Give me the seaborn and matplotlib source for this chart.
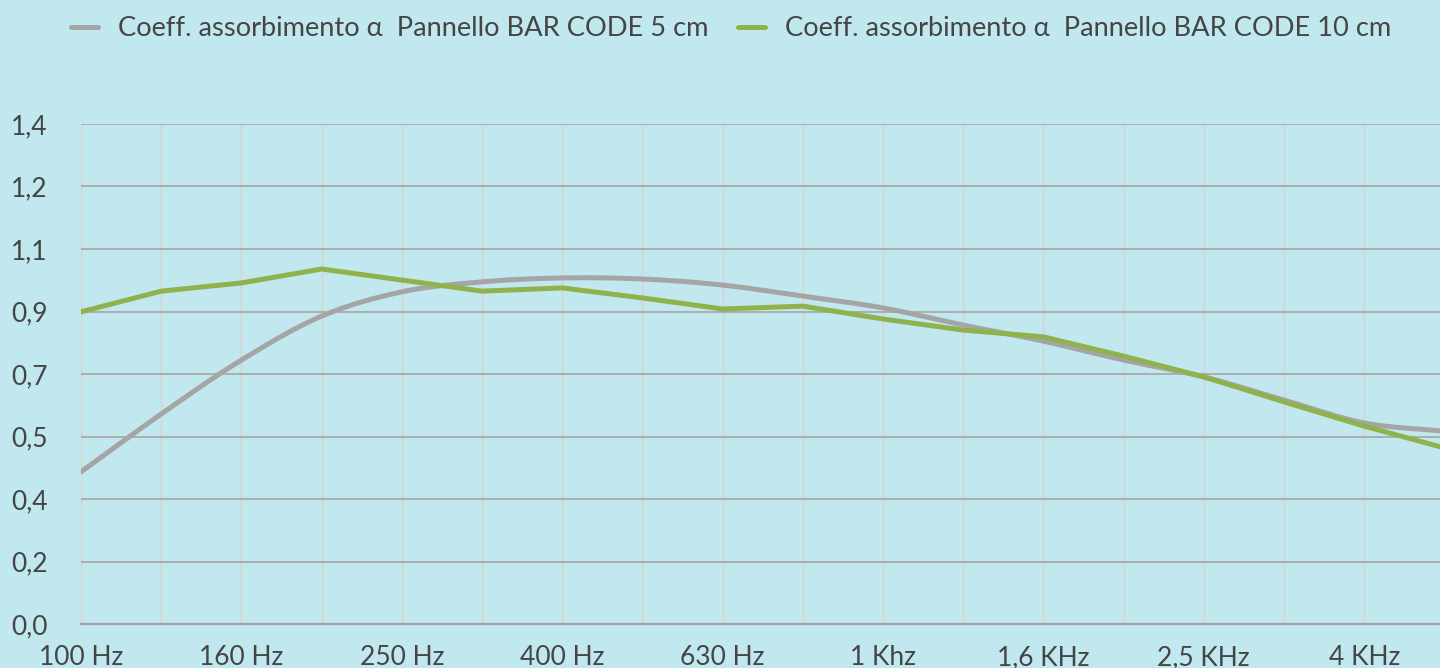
import numpy as np
import pandas as pd
import matplotlib
matplotlib.use("Agg")
import matplotlib.pyplot as plt
import seaborn as sns

# --- data ---
freqs = ["100 Hz", "125 Hz", "160 Hz", "200 Hz", "250 Hz", "315 Hz", "400 Hz", "500 Hz",
         "630 Hz", "800 Hz", "1 Khz", "1,25 KHz", "1,6 KHz", "2 KHz", "2,5 KHz", "3,15 KHz",
         "4 KHz", "5 KHz"]
bar_code_5 = [0.426, 0.588, 0.739, 0.862, 0.930, 0.958, 0.969, 0.966, 0.949, 0.918,
              0.885, 0.837, 0.792, 0.739, 0.692, 0.627, 0.563, 0.540]
bar_code_10 = [0.874, 0.932, 0.955, 0.994, 0.963, 0.932, 0.941, 0.913, 0.882, 0.890,
               0.854, 0.823, 0.804, 0.750, 0.692, 0.622, 0.554, 0.493]
y_ticks = [0.0, 0.175, 0.35, 0.525, 0.7, 0.875, 1.05, 1.225, 1.4]

label_5 = "Coeff. assorbimento α  Pannello BAR CODE 5 cm"
label_10 = "Coeff. assorbimento α  Pannello BAR CODE 10 cm"

BG = "#c0e8ee"
GREY = "#a5a5a5"
GREEN = "#90b24c"
TXT = "#454545"


def smooth(xs, ys, n=20):
    # catmull-rom style smoothing, like the "smoothed line" option of office charts
    xs = np.asarray(xs, float)
    ys = np.asarray(ys, float)
    px = np.concatenate([[2 * xs[0] - xs[1]], xs, [2 * xs[-1] - xs[-2]]])
    py = np.concatenate([[2 * ys[0] - ys[1]], ys, [2 * ys[-1] - ys[-2]]])
    out_x, out_y = [], []
    t = np.linspace(0, 1, n, endpoint=False)
    for i in range(1, len(px) - 2):
        for p, o in ((px, out_x), (py, out_y)):
            p0, p1, p2, p3 = p[i - 1], p[i], p[i + 1], p[i + 2]
            o.extend(0.5 * ((2 * p1) + (-p0 + p2) * t + (2 * p0 - 5 * p1 + 4 * p2 - p3) * t ** 2
                            + (-p0 + 3 * p1 - 3 * p2 + p3) * t ** 3))
    out_x.append(xs[-1])
    out_y.append(ys[-1])
    return np.array(out_x), np.array(out_y)


def comma_label(v):
    # round half up, one decimal, italian comma
    return f"{np.floor(v * 10 + 0.5 + 1e-9) / 10:.1f}".replace(".", ",")


idx = np.arange(len(freqs))
sx, sy = smooth(idx, bar_code_5)
df5 = pd.DataFrame({"x": sx, "y": sy})
df10 = pd.DataFrame({"x": idx, "y": bar_code_10})

sns.set_style("white")
plt.rcParams["font.family"] = ["Lato", "DejaVu Sans"]

fig = plt.figure(figsize=(14.4, 6.68), dpi=100, facecolor=BG)
W, H = 1440, 668
ax = fig.add_axes([81 / W, (H - 624) / H, 17 * 80.2 / W, 500 / H])
ax.set_facecolor(BG)

sns.lineplot(data=df5, x="x", y="y", ax=ax, color=GREY, lw=3.6, label=label_5,
             estimator=None, sort=False, zorder=3)
sns.lineplot(data=df10, x="x", y="y", ax=ax, color=GREEN, lw=3.6, label=label_10,
             estimator=None, zorder=4)

ax.set_xlim(0, 17)
ax.set_ylim(0, 1.4)
ax.set_xticks(idx)
ax.set_xticklabels([f if i % 2 == 0 else "" for i, f in enumerate(freqs)])
ax.set_yticks(y_ticks)
ax.set_yticklabels([comma_label(v) for v in y_ticks])
ax.set_xlabel("")
ax.set_ylabel("")

ax.grid(axis="x", color="#d9d2cc", lw=1.0)
ax.grid(axis="y", color="#a9a9a9", lw=1.3)
ax.set_axisbelow(True)
for s in ["top", "right", "left"]:
    ax.spines[s].set_visible(False)
ax.spines["bottom"].set_color("#a0a0a0")
ax.spines["bottom"].set_linewidth(1.6)

ax.tick_params(axis="y", length=0, pad=24, labelsize=19, labelcolor=TXT)
ax.tick_params(axis="x", length=0, pad=15, labelsize=19, labelcolor=TXT)

ax.get_legend().remove()
handles, labels = ax.get_legend_handles_labels()
fig.legend(handles, labels, loc="upper center", bbox_to_anchor=(731 / W, 1.012), ncol=2,
           frameon=False, fontsize=19.6, labelcolor=TXT, handlelength=1.0,
           handletextpad=0.72, columnspacing=1.1)

fig.savefig("out.png", dpi=100, facecolor=BG)
